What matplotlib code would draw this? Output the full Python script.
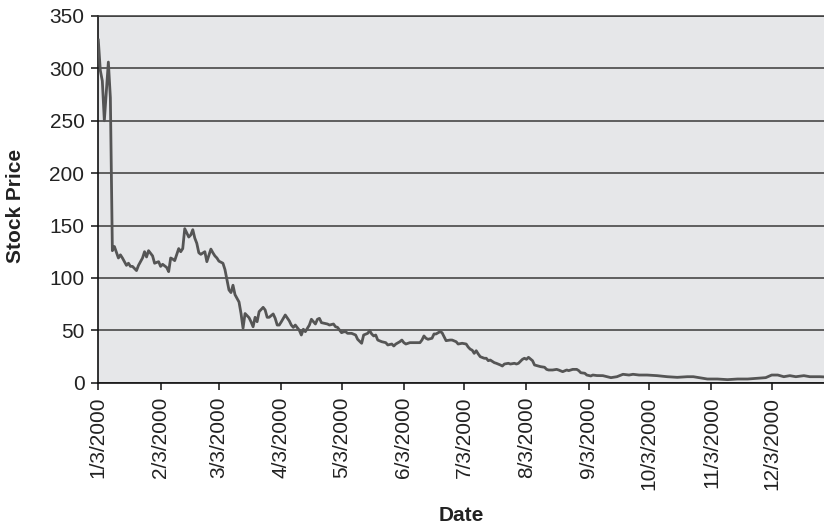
import matplotlib
matplotlib.use("Agg")
import matplotlib.pyplot as plt
import pandas as pd

plt.rcParams["font.family"] = ["Liberation Sans", "DejaVu Sans"]

# Daily closing prices through 2000
dates = [
    "2000-01-03", "2000-01-04", "2000-01-05", "2000-01-06", "2000-01-08", "2000-01-09",
    "2000-01-10", "2000-01-11", "2000-01-13", "2000-01-14", "2000-01-15", "2000-01-17",
    "2000-01-18", "2000-01-19", "2000-01-20", "2000-01-22", "2000-01-23", "2000-01-25",
    "2000-01-26", "2000-01-27", "2000-01-28", "2000-01-30", "2000-01-31",
    "2000-02-02", "2000-02-03", "2000-02-04", "2000-02-06", "2000-02-07", "2000-02-08",
    "2000-02-09", "2000-02-10", "2000-02-12", "2000-02-13", "2000-02-14", "2000-02-15",
    "2000-02-17", "2000-02-18", "2000-02-19", "2000-02-20", "2000-02-21", "2000-02-22",
    "2000-02-23", "2000-02-25", "2000-02-26", "2000-02-28", "2000-02-29",
    "2000-03-01", "2000-03-02", "2000-03-03", "2000-03-05", "2000-03-06", "2000-03-07",
    "2000-03-08", "2000-03-09", "2000-03-10", "2000-03-11", "2000-03-13", "2000-03-14",
    "2000-03-15", "2000-03-16", "2000-03-18", "2000-03-19", "2000-03-20", "2000-03-21",
    "2000-03-22", "2000-03-23", "2000-03-25", "2000-03-26", "2000-03-27", "2000-03-28",
    "2000-03-30", "2000-03-31",
    "2000-04-01", "2000-04-02", "2000-04-03", "2000-04-05", "2000-04-07", "2000-04-08",
    "2000-04-09", "2000-04-10", "2000-04-12", "2000-04-13", "2000-04-14", "2000-04-15",
    "2000-04-17", "2000-04-18", "2000-04-20", "2000-04-21", "2000-04-22", "2000-04-23",
    "2000-04-26", "2000-04-27", "2000-04-29", "2000-04-30",
    "2000-05-01", "2000-05-03", "2000-05-04", "2000-05-05", "2000-05-06", "2000-05-08",
    "2000-05-10", "2000-05-11", "2000-05-13", "2000-05-14", "2000-05-16", "2000-05-17",
    "2000-05-18", "2000-05-19", "2000-05-20", "2000-05-21", "2000-05-23", "2000-05-25",
    "2000-05-26", "2000-05-28", "2000-05-29", "2000-05-30",
    "2000-06-01", "2000-06-02", "2000-06-03", "2000-06-04", "2000-06-06", "2000-06-08",
    "2000-06-09", "2000-06-11", "2000-06-12", "2000-06-13", "2000-06-14", "2000-06-15",
    "2000-06-17", "2000-06-18", "2000-06-19", "2000-06-21", "2000-06-22", "2000-06-23",
    "2000-06-24", "2000-06-26", "2000-06-27", "2000-06-29", "2000-06-30",
    "2000-07-02", "2000-07-04", "2000-07-05", "2000-07-06", "2000-07-07", "2000-07-08",
    "2000-07-09", "2000-07-10", "2000-07-11", "2000-07-13", "2000-07-14", "2000-07-15",
    "2000-07-16", "2000-07-18", "2000-07-19", "2000-07-21", "2000-07-22", "2000-07-23",
    "2000-07-25", "2000-07-26", "2000-07-28", "2000-07-29", "2000-07-30",
    "2000-08-01", "2000-08-02", "2000-08-03", "2000-08-04", "2000-08-06", "2000-08-07",
    "2000-08-09", "2000-08-10", "2000-08-12", "2000-08-13", "2000-08-14", "2000-08-16",
    "2000-08-18", "2000-08-19", "2000-08-21", "2000-08-23", "2000-08-24", "2000-08-26",
    "2000-08-28", "2000-08-29", "2000-08-30",
    "2000-09-01", "2000-09-02", "2000-09-04", "2000-09-05", "2000-09-07", "2000-09-10",
    "2000-09-14", "2000-09-17", "2000-09-20", "2000-09-23", "2000-09-25", "2000-09-28",
    "2000-10-02", "2000-10-07", "2000-10-12", "2000-10-17", "2000-10-22", "2000-10-25",
    "2000-10-28",
    "2000-11-01", "2000-11-06", "2000-11-11", "2000-11-16", "2000-11-21", "2000-11-26",
    "2000-11-30",
    "2000-12-03", "2000-12-06", "2000-12-09", "2000-12-12", "2000-12-15", "2000-12-19",
    "2000-12-22", "2000-12-27", "2000-12-29",
]

prices = [
    327, 298, 288, 250, 306, 272,
    126, 130, 119, 122, 119, 112,
    114, 111, 111, 107, 112, 119,
    125, 120, 126, 121, 114,
    115.5, 111, 113, 110, 106, 119,
    118, 116.5, 128, 125, 128, 147,
    139, 141, 146, 138, 133, 124,
    122.5, 125, 115.5, 127.5, 124,
    121, 119, 116, 114, 108, 98,
    88.5, 86, 93, 84, 77, 66,
    52, 66, 62, 58, 53.4, 62.4,
    58.2, 67.8, 71.9, 69.4, 62.4, 62.4,
    65.6, 61.4,
    55, 55, 58, 64.6, 59, 55,
    52.8, 55, 50, 45.5, 51, 48.7,
    55, 60.5, 56, 60.5, 61.4, 57.3,
    56, 55, 56, 53.4,
    52.8, 47.7, 48.5, 48.7, 47.1, 47.1,
    45.5, 41.4, 37.6, 45.5, 47.1, 49.6,
    46.5, 44.6, 45.5, 40.7, 39.1, 38.2,
    36, 36.9, 35, 36.9,
    39.1, 40.7, 38.2, 36.9, 38.2, 38.2,
    38.2, 38.2, 40.7, 44.6, 42.4, 41.4,
    42.4, 46.5, 46.5, 48.7, 47.7, 43.9,
    40.1, 40.7, 40.7, 39.1, 36.9,
    37.6, 36.9, 34, 32, 31, 28,
    30.5, 27.4, 24.8, 23.3, 23.3, 21,
    21.6, 19.1, 18.5, 16.9, 15.9, 17.8,
    18.5, 17.8, 18.5, 17.8, 18.5,
    22.3, 23.3, 22.3, 24.2, 21, 16.9,
    15.9, 15.3, 14.7, 12.7, 12.1, 12.1,
    12.7, 12.1, 10.5, 12.1, 11.5, 12.7,
    12.7, 11.5, 9.5,
    9, 7.3, 6.4, 7.3, 6.8, 6.7,
    4.8, 5.7, 8, 7.3, 8, 7.3,
    7.3, 6.7, 5.7, 5.1, 5.7, 5.7,
    4.8,
    3.5, 3.5, 2.9, 3.5, 3.5, 4.2,
    4.8,
    7.3, 7.3, 5.7, 6.7, 5.7, 6.7,
    5.7, 5.7, 5.5,
]

tick_dates = ["2000-%02d-03" % m for m in range(1, 13)]
tick_labels = ["%d/3/2000" % m for m in range(1, 13)]
y_ticks = [0, 50, 100, 150, 200, 250, 300, 350]

fig = plt.figure(figsize=(8.24, 5.29), dpi=100)
ax = fig.add_axes([0.1193, 0.2766, 0.8807, 0.6932])
ax.set_facecolor("#e6e7e9")

ax.plot(pd.to_datetime(dates), prices, color="#555555", lw=2.0, zorder=3)

ax.set_ylim(0, 350)
ax.set_xlim(pd.Timestamp("2000-01-03"), pd.Timestamp("2000-12-29"))
ax.set_yticks(y_ticks)
ax.set_xticks(pd.to_datetime(tick_dates))
ax.set_xticklabels(tick_labels, rotation=90, va="top", ha="center")

ax.yaxis.grid(True, color="#3a3a3a", lw=1.1)
ax.set_axisbelow(True)

ax.spines["right"].set_visible(False)
ax.spines["top"].set_color("#3a3a3a")
ax.spines["top"].set_linewidth(1.1)
for side in ("left", "bottom"):
    ax.spines[side].set_color("#111111")
    ax.spines[side].set_linewidth(1.2)

ax.tick_params(axis="both", direction="out", length=5, width=1.1,
               color="#111111", labelsize=15, labelcolor="#222222")
ax.tick_params(axis="y", pad=5)
ax.tick_params(axis="x", pad=5)

ax.set_ylabel("Stock Price", fontsize=15, fontweight="bold", color="#222222")
ax.yaxis.set_label_coords(-0.101, 0.482)
ax.set_xlabel("Date", fontsize=15, fontweight="bold", color="#222222")
ax.xaxis.set_label_coords(0.5, -0.337)

fig.savefig("out.png", dpi=100)
